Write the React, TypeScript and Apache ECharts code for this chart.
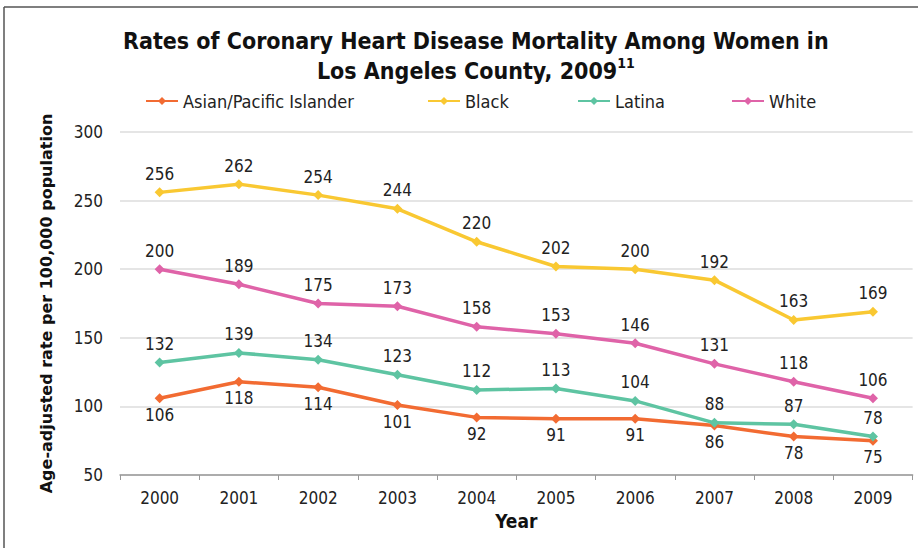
import React, { useEffect, useRef } from "react";
import * as echarts from "echarts";

const years = ["2000", "2001", "2002", "2003", "2004", "2005", "2006", "2007", "2008", "2009"];
const asian = [106, 118, 114, 101, 92, 91, 91, 86, 78, 75];
const black = [256, 262, 254, 244, 220, 202, 200, 192, 163, 169];
const latina = [132, 139, 134, 123, 112, 113, 104, 88, 87, 78];
const white = [200, 189, 175, 173, 158, 153, 146, 131, 118, 106];
const seriesNames = ["Asian/Pacific Islander", "Black", "Latina", "White"];
const colors = ["#F26B32", "#F9C832", "#5EC4A2", "#DF63A8"];
const legendLefts = [145, 427, 577, 731];

const FONT = "'DejaVu Sans Condensed', 'DejaVu Sans', sans-serif";

export default function App() {
  const ref = useRef<HTMLDivElement>(null);
  useEffect(() => {
    if (!ref.current) return;
    const chart = echarts.init(ref.current, null, { renderer: "svg" });
    const dataSets = [asian, black, latina, white];
    const positions = ["bottom", "top", "top", "top"];
    chart.setOption({
      animation: false,
      backgroundColor: "#ffffff",
      textStyle: { fontFamily: FONT },
      title: {
        text: "{t|Rates of Coronary Heart Disease Mortality Among Women in}\n{t|Los Angeles County, 2009}{s|11}",
        left: 118,
        top: 21,
        textAlign: "left",
        textStyle: {
          rich: {
            t: { fontFamily: FONT, fontSize: 23, fontWeight: "bold", color: "#111", lineHeight: 30, align: "center" },
            s: { fontFamily: FONT, fontSize: 14, fontWeight: "bold", color: "#111", verticalAlign: "top", lineHeight: 30, padding: [0, 0, 10, 0] },
          },
        },
      },
      legend: seriesNames.map((n, i) => ({
        data: [n],
        top: 92,
        left: legendLefts[i],
        padding: 0,
        itemWidth: 32,
        itemHeight: 10,
        itemGap: 0,
        textStyle: { fontFamily: FONT, fontSize: 18, color: "#222" },
      })),
      graphic: [
        { type: "line", shape: { x1: 4, y1: 7, x2: 918, y2: 7 }, style: { stroke: "#555", lineWidth: 1.5 } },
        { type: "line", shape: { x1: 4, y1: 7, x2: 4, y2: 548 }, style: { stroke: "#555", lineWidth: 1.5 } },
      ],
      grid: { left: 120, right: 5.4, top: 132, bottom: 73, containLabel: false },
      xAxis: {
        type: "category",
        data: years,
        boundaryGap: true,
        name: "Year",
        nameLocation: "middle",
        nameGap: 36,
        nameTextStyle: { fontFamily: FONT, fontSize: 19, fontWeight: "bold", color: "#111" },
        axisLine: { lineStyle: { color: "#999", width: 1.5 } },
        axisTick: { show: true, length: 5, lineStyle: { color: "#999" } },
        axisLabel: { fontFamily: FONT, fontSize: 17, color: "#222", margin: 14 },
      },
      yAxis: {
        type: "value",
        min: 50,
        max: 300,
        interval: 50,
        name: "Age-adjusted rate per 100,000 population",
        nameLocation: "middle",
        nameGap: 66,
        nameTextStyle: { fontFamily: "'DejaVu Sans', sans-serif", fontSize: 16, fontWeight: "bold", color: "#111" },
        axisLine: { show: false },
        axisTick: { show: false },
        splitLine: { lineStyle: { color: "#dcdcdc", width: 1.5 } },
        axisLabel: { fontFamily: FONT, fontSize: 17, color: "#222", margin: 17 },
      },
      series: dataSets.map((d, i) => ({
        name: seriesNames[i],
        type: "line",
        data: d,
        color: colors[i],
        symbol: "diamond",
        symbolSize: 10,
        lineStyle: { width: 3.5, color: colors[i] },
        itemStyle: { color: colors[i] },
        label: {
          show: true,
          position: positions[i],
          distance: i === 0 ? 3 : 5,
          fontFamily: FONT,
          fontSize: 17,
          color: "#222",
        },
      })),
    });
    return () => chart.dispose();
  }, []);
  return <div ref={ref} style={{ width: 918, height: 548, position: "absolute", left: 0, top: 0 }} />;
}
